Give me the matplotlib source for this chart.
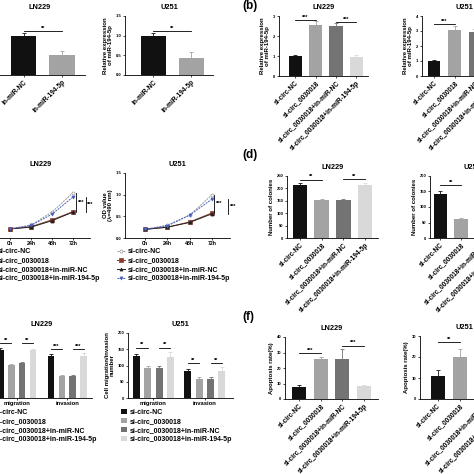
import matplotlib
matplotlib.use('Agg')
import matplotlib.pyplot as plt
from matplotlib.lines import Line2D
from matplotlib.patches import Patch

plt.rcParams['font.family'] = ['Liberation Sans', 'DejaVu Sans']
plt.rcParams['font.weight'] = 'bold'
plt.rcParams['axes.labelweight'] = 'bold'
plt.rcParams['axes.titleweight'] = 'bold'
plt.rcParams['axes.linewidth'] = 0.6

# ---------------- data ----------------
groups4 = ['si-circ-NC', 'si-circ_0030018', 'si-circ_0030018+in-miR-NC',
           'si-circ_0030018+in-miR-194-5p']
groups2 = ['in-miR-NC', 'in-miR-194-5p']
timepoints = ['0h', '24h', '48h', '72h']
assays = ['migration', 'invasion']

# (a) relative miR-194-5p after inhibitor
a_ln229 = [1.0, 0.50]
a_ln229_err = [0.08, 0.10]
a_u251 = [1.0, 0.43]
a_u251_err = [0.08, 0.15]

# (b) relative miR-194-5p
b_ln229 = [1.0, 2.55, 2.50, 0.97]
b_ln229_err = [0.07, 0.20, 0.15, 0.08]
b_u251 = [1.0, 3.10, 2.95, 1.05]
b_u251_err = [0.08, 0.25, 0.20, 0.10]

# (c) OD values (CCK-8)
c_ln229 = {
    'si-circ-NC': [0.21, 0.30, 0.60, 1.05],
    'si-circ_0030018': [0.21, 0.26, 0.42, 0.61],
    'si-circ_0030018+in-miR-NC': [0.21, 0.25, 0.40, 0.60],
    'si-circ_0030018+in-miR-194-5p': [0.21, 0.29, 0.55, 0.95],
}
c_u251 = {
    'si-circ-NC': [0.20, 0.30, 0.53, 1.00],
    'si-circ_0030018': [0.20, 0.25, 0.37, 0.58],
    'si-circ_0030018+in-miR-NC': [0.20, 0.25, 0.36, 0.56],
    'si-circ_0030018+in-miR-194-5p': [0.20, 0.28, 0.53, 0.90],
}

# (d) colonies
d_ln229 = [212, 155, 155, 212]
d_ln229_err = [8, 3, 3, 10]
d_u251 = [143, 62, 60, 140]
d_u251_err = [8, 3, 3, 8]

# (e) migration / invasion
e_ln229 = {'migration': [148, 101, 108, 148], 'invasion': [129, 68, 68, 129]}
e_ln229_err = {'migration': [6, 5, 3, 4], 'invasion': [6, 2, 4, 8]}
e_u251 = {'migration': [129, 92, 92, 127], 'invasion': [84, 59, 60, 84]}
e_u251_err = {'migration': [6, 6, 6, 14], 'invasion': [5, 5, 5, 10]}

# (f) apoptosis
f_ln229 = [8.0, 25.5, 26.0, 8.5]
f_ln229_err = [1.0, 1.5, 6.0, 0.5]
f_u251 = [11.0, 20.0, 21.0, 10.0]
f_u251_err = [3.0, 4.0, 4.0, 2.0]

# ---------------- styling ----------------
bar_colors = ['#111111', '#a3a3a3', '#737373', '#d9d9d9']
line_styles = {
    'si-circ-NC': dict(color='#9a9a9a', marker='o', ls=(0, (2, 1)), mfc='white'),
    'si-circ_0030018': dict(color='#8a3a2c', marker='s', ls='-', mfc='#8a3a2c'),
    'si-circ_0030018+in-miR-NC': dict(color='#222222', marker='^', ls='-', mfc='#222222'),
    'si-circ_0030018+in-miR-194-5p': dict(color='#4a5fc1', marker='v', ls=(0, (2, 1)), mfc='#4a5fc1'),
}

W = H = 474
fig = plt.figure(figsize=(4.74, 4.74), dpi=100)

TICK_FS = 3.0
ROT_FS = 4.7
LBL_FS = 4.3
TITLE_FS = 5.3
LEG_FS = 5.0


def add_ax(l, t, r, b):
    return fig.add_axes([l / W, 1 - b / H, (r - l) / W, (b - t) / H])


def style(ax):
    ax.spines['top'].set_visible(False)
    ax.spines['right'].set_visible(False)
    ax.tick_params(labelsize=TICK_FS, length=1.5, width=0.5, pad=1)


def sig(ax, x1, x2, h, txt, ymax):
    ax.plot([x1, x2], [h, h], color='black', lw=0.6, clip_on=False)
    ax.text((x1 + x2) / 2, h + 0.005 * ymax, txt, ha='center', va='bottom',
            fontsize=4, clip_on=False)


def bar_panel(ax, vals, errs, labels, colors, ylim, yticks, title, ylabel,
              xlim, width, sigs, ytickfmt='{:g}', pad=0.04):
    xs = list(range(len(vals)))
    for x, v, e, c in zip(xs, vals, errs, colors):
        ax.bar(x, v, width, color=c)
        ax.errorbar(x, v, yerr=[[0], [e]], fmt='none', ecolor=c, elinewidth=0.6,
                    capsize=1.5, capthick=0.6)
    ax.set_xlim(*xlim)
    ax.set_ylim(*ylim)
    ax.set_yticks(yticks)
    ax.set_yticklabels([ytickfmt.format(t) for t in yticks])
    ax.set_xticks(xs)
    ax.set_xticklabels(labels, rotation=45, ha='right', rotation_mode='anchor')
    ax.set_title(title, fontsize=TITLE_FS, pad=5)
    ax.set_ylabel(ylabel, fontsize=LBL_FS, labelpad=2, linespacing=1.0)
    style(ax)
    ax.tick_params(axis='x', labelsize=ROT_FS)
    for i, j, t in sigs:
        h = max(vals[i] + errs[i], vals[j] + errs[j]) + pad * ylim[1]
        sig(ax, i, j, h, t, ylim[1])


rel_lbl = 'Relative expression\nof miR-194-5p'

# (a)
ax = add_ax(-5, 16, 85, 75)
bar_panel(ax, a_ln229, a_ln229_err, groups2, ['#111111', '#a3a3a3'], (0, 1.5),
          [0.0, 0.5, 1.0, 1.5], 'LN229', rel_lbl, (-0.75, 1.6), 0.66,
          [(0, 1, '**')], '{:.1f}', pad=0.03)
ax = add_ax(125, 16, 213, 75)
bar_panel(ax, a_u251, a_u251_err, groups2, ['#111111', '#a3a3a3'], (0, 1.5),
          [0.0, 0.5, 1.0, 1.5], 'U251', rel_lbl, (-0.75, 1.58), 0.66,
          [(0, 1, '**')], '{:.1f}', pad=0.03)

# (b)
ax = add_ax(279, 16, 368, 76)
bar_panel(ax, b_ln229, b_ln229_err, groups4, bar_colors, (0, 3), [0, 1, 2, 3],
          'LN229', rel_lbl, (-0.8, 3.57), 0.65, [(0, 1, '***'), (2, 3, '***')],
          pad=0.02)
ax = add_ax(422, 16, 507, 76)
bar_panel(ax, b_u251, b_u251_err, groups4, bar_colors, (0, 4), [0, 1, 2, 3, 4],
          'U251', rel_lbl, (-0.6, 3.57), 0.6, [(0, 1, '***'), (2, 3, '***')],
          pad=0.03)


# (c)
def line_panel(ax, data, title, brackets):
    xs = list(range(len(timepoints)))
    for name, vals in data.items():
        st = line_styles[name]
        ax.plot(xs, vals, color=st['color'], ls=st['ls'], lw=0.7,
                marker=st['marker'], ms=2.2, mfc=st['mfc'], mec=st['color'],
                mew=0.5)
    ax.set_xlim(-0.9, 3.8)
    ax.set_ylim(0, 1.5)
    ax.set_yticks([0.0, 0.5, 1.0, 1.5])
    ax.set_yticklabels(['0.0', '0.5', '1.0', '1.5'])
    ax.set_xticks(xs)
    ax.set_xticklabels(timepoints)
    ax.set_title(title, fontsize=TITLE_FS, pad=5)
    ax.set_ylabel('OD value\n(λ=490 nm)', fontsize=LBL_FS, labelpad=2,
                  linespacing=1.0)
    style(ax)
    ax.tick_params(axis='x', labelsize=3.8)
    names = list(data.keys())
    for (xb, a, b) in brackets:
        y1 = data[names[a]][-1]
        y2 = data[names[b]][-1]
        ax.plot([xb, xb], [y1, y2], color='black', lw=0.6, clip_on=False)
        ax.text(xb + 0.08, (y1 + y2) / 2, '***', ha='left', va='center',
                fontsize=4, clip_on=False)


ax = add_ax(-9, 173, 90, 238)
line_panel(ax, c_ln229, 'LN229', [(3.15, 0, 1), (3.6, 3, 2)])
ax = add_ax(125, 173, 230, 238)
line_panel(ax, c_u251, 'U251', [(3.1, 0, 1), (3.7, 3, 2)])

line_handles = [Line2D([0], [0], color=line_styles[n]['color'],
                       ls=line_styles[n]['ls'], lw=0.7,
                       marker=line_styles[n]['marker'], ms=2.2,
                       mfc=line_styles[n]['mfc'], mec=line_styles[n]['color'],
                       mew=0.5) for n in groups4]
for lx in (-13 / W, 117 / W):
    fig.legend(line_handles, groups4, loc='upper left',
               bbox_to_anchor=(lx, 1 - 248 / H), frameon=False, fontsize=LEG_FS,
               handlelength=1.2, handletextpad=0.4, labelspacing=0.3,
               borderpad=0, borderaxespad=0)

# (d)
ax = add_ax(287, 176, 378, 238)
bar_panel(ax, d_ln229, d_ln229_err, groups4, bar_colors, (0, 250),
          [0, 50, 100, 150, 200, 250], 'LN229', 'Number of colonies',
          (-0.6, 3.6), 0.68, [(0, 1, '**'), (2, 3, '**')], pad=0.06)
ax = add_ax(430, 176, 515, 238)
bar_panel(ax, d_u251, d_u251_err, groups4, bar_colors, (0, 200),
          [0, 50, 100, 150, 200], 'U251', 'Number of colonies',
          (-0.5, 3.6), 0.65, [(0, 1, '**'), (2, 3, '**')], pad=0.1)


# (e)
def group_panel(ax, data, errs, title, xlim, gap, sigtxt):
    for gi, g in enumerate(assays):
        for i in range(4):
            x = gi * gap + i
            v = data[g][i]
            e = errs[g][i]
            ax.bar(x, v, 0.62, color=bar_colors[i])
            ax.errorbar(x, v, yerr=[[0], [e]], fmt='none', ecolor=bar_colors[i],
                        elinewidth=0.6, capsize=1.2, capthick=0.6)
        top = max(v + e for v, e in zip(data[g], errs[g]))
        for (i, j) in [(0, 1), (2, 3)]:
            sig(ax, gi * gap + i, gi * gap + j, top + 14, sigtxt[g], 200)
    ax.set_xlim(*xlim)
    ax.set_ylim(0, 200)
    ax.set_yticks([0, 50, 100, 150, 200])
    ax.set_xticks([1.5, gap + 1.5])
    ax.set_xticklabels(assays)
    ax.set_title(title, fontsize=TITLE_FS, pad=5)
    ax.set_ylabel('Cell migration/invasion\nnumber', fontsize=LBL_FS,
                  labelpad=2, linespacing=1.0)
    style(ax)
    ax.tick_params(axis='x', labelsize=4.2, length=1.5)


ax = add_ax(-8, 333, 92, 398)
group_panel(ax, e_ln229, e_ln229_err, 'LN229', (-0.75, 8.4), 4.65,
            {'migration': '**', 'invasion': '***'})
ax = add_ax(128, 333, 233, 398)
group_panel(ax, e_u251, e_u251_err, 'U251', (-0.75, 8.55), 4.56,
            {'migration': '**', 'invasion': '**'})

patch_handles = [Patch(facecolor=c, edgecolor='none') for c in bar_colors]
for lx in (-14.5 / W, 121 / W):
    fig.legend(patch_handles, groups4, loc='upper left',
               bbox_to_anchor=(lx, 1 - 409 / H), frameon=False, fontsize=LEG_FS,
               handlelength=0.8, handleheight=0.8, handletextpad=0.5,
               labelspacing=0.27, borderpad=0, borderaxespad=0)

# (f)
ax = add_ax(285, 337, 378, 399)
bar_panel(ax, f_ln229, f_ln229_err, groups4, bar_colors, (0, 40),
          [0, 10, 20, 30, 40], 'LN229', 'Apoptosis rate(%)', (-0.65, 3.65),
          0.66, [(0, 1, '***'), (2, 3, '***')], pad=0.06)
ax = add_ax(420, 336, 508, 399)
bar_panel(ax, f_u251, f_u251_err, groups4, bar_colors, (0, 30),
          [0, 10, 20, 30], 'U251', 'Apoptosis rate(%)', (-0.78, 3.13),
          0.62, [(0, 1, '**'), (2, 3, '**')], pad=0.1)

# panel letters
for txt, x, y in [('(b)', 242, 6), ('(d)', 242, 155), ('(f)', 242, 317)]:
    fig.text(x / W, 1 - y / H, txt, fontsize=8.5, fontweight='bold',
             ha='left', va='center')

fig.savefig('out.png', dpi=100)
